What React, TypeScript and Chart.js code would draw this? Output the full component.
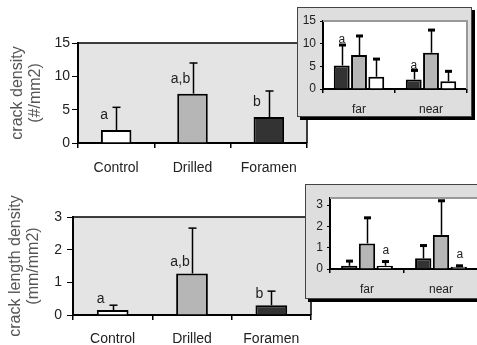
import React, { useEffect, useRef } from "react";
import { Chart, registerables } from "chart.js";

Chart.register(...registerables);

// ---------- data ----------
const mainCategories = ["Control", "Drilled", "Foramen"];
const crackDensity = [1.95, 7.4, 3.9];
const crackDensityErr = [3.4, 4.6, 3.9];
const crackDensityLetters = ["a", "a,b", "b"];
const densityTicks = [0, 5, 10, 15];

const lengthDensity = [0.15, 1.27, 0.3];
const lengthDensityErr = [0.15, 1.39, 0.43];
const lengthDensityLetters = ["a", "a,b", "b"];
const lengthTicks = [0, 1, 2, 3];

const insetCategories = ["far", "near"];
const insetDensityDark = [5.2, 2.1];
const insetDensityDarkErr = [4.5, 2.0];
const insetDensityGray = [7.5, 8.0];
const insetDensityGrayErr = [4.2, 5.0];
const insetDensityWhite = [2.7, 1.7];
const insetDensityWhiteErr = [3.9, 2.2];
const insetDensityDarkLetters = ["a", "a"];

const insetLengthDark = [0.15, 0.5];
const insetLengthDarkErr = [0.22, 0.6];
const insetLengthGray = [1.2, 1.6];
const insetLengthGrayErr = [1.2, 1.6];
const insetLengthWhite = [0.15, 0.1];
const insetLengthWhiteErr = [0.2, 0.05];
const insetLengthWhiteLetters = ["a", "a"];

// ---------- styles ----------
const DARK = "#333333";
const GRAY = "#b6b6b6";
const WHITE = "#ffffff";
const FONT = "'Liberation Sans', Arial, sans-serif";
const NARROW = "'Liberation Sans Narrow', 'Arial Narrow', 'Liberation Sans', sans-serif";

type Series = { data: number[]; err: number[]; letters?: string[]; color: string | string[] };

type Opts = {
  labels: string[];
  series: Series[];
  max: number;
  ticks: number[];
  title?: string[];
  titlePad?: number;
  inset: boolean;
  yWidth: number;
  xHeight: number;
  pad: { left: number; top: number; right: number; bottom: number };
  tickLenY: number;
  tickPadY: number;
  tickPadX: number;
  catPct: number;
  barPct: number;
  tickFont: any;
  letterFont: string;
  letterDx: number;
  letterDy: number;
  letterFromErr: boolean;
  capW: number;
  capLW: number;
  boxW?: number;
  boxH?: number;
};

const panelPlugin = {
  id: "panel",
  beforeDraw(chart: any, _args: any, o: any) {
    const { ctx, chartArea: a } = chart;
    ctx.save();
    if (o.inset) {
      const s = 3;
      const bw = o.boxW, bh = o.boxH;
      ctx.fillStyle = "#000";
      ctx.fillRect(s, s, bw - s, bh - s);
      ctx.fillStyle = "#dedede";
      ctx.fillRect(0, 0, bw - s, bh - s);
      ctx.strokeStyle = "#444";
      ctx.lineWidth = 1;
      ctx.strokeRect(0.5, 0.5, bw - s - 1, bh - s - 1);
      ctx.fillStyle = "#ffffff";
      ctx.fillRect(a.left, a.top, a.right - a.left, a.bottom - a.top);
    } else {
      ctx.fillStyle = "#e4e4e4";
      ctx.fillRect(a.left, a.top, a.right - a.left, a.bottom - a.top);
    }
    ctx.restore();
  },
  afterDatasetsDraw(chart: any, _args: any, o: any) {
    const { ctx } = chart;
    const y = chart.scales.y;
    const series: Series[] = o.series;
    ctx.save();
    series.forEach((s, di) => {
      const meta = chart.getDatasetMeta(di);
      s.data.forEach((v, i) => {
        const bar = meta.data[i];
        const x = Math.round(bar.x) + 0.5;
        const yTop = y.getPixelForValue(v);
        const yErr = y.getPixelForValue(v + s.err[i]);
        ctx.strokeStyle = "#000";
        ctx.lineWidth = 1.5;
        ctx.beginPath();
        ctx.moveTo(x, yTop);
        ctx.lineTo(x, yErr);
        ctx.stroke();
        ctx.lineWidth = o.capLW;
        ctx.beginPath();
        ctx.moveTo(x - o.capW / 2, yErr);
        ctx.lineTo(x + o.capW / 2, yErr);
        ctx.stroke();
        if (s.letters && s.letters[i]) {
          ctx.fillStyle = "#222";
          ctx.font = o.letterFont;
          ctx.textAlign = "center";
          ctx.textBaseline = "middle";
          const ly = (o.letterFromErr ? yErr : yTop) - o.letterDy;
          ctx.fillText(s.letters[i], bar.x + o.letterDx, ly);
        }
      });
    });
    ctx.restore();
  },
  afterDraw(chart: any, _args: any, o: any) {
    const { ctx, chartArea: a } = chart;
    ctx.save();
    if (o.inset) {
      ctx.strokeStyle = "#999";
      ctx.lineWidth = 2;
    } else {
      ctx.strokeStyle = "#000";
      ctx.lineWidth = 1.5;
    }
    ctx.beginPath();
    ctx.moveTo(a.left, a.top);
    ctx.lineTo(a.right, a.top);
    ctx.lineTo(a.right, a.bottom);
    ctx.stroke();
    ctx.restore();
  },
};

function buildConfig(o: Opts): any {
  return {
    type: "bar",
    data: {
      labels: o.labels,
      datasets: o.series.map((s) => ({
        data: s.data,
        backgroundColor: s.color,
        borderColor: "#000",
        borderWidth: 2,
        borderSkipped: "bottom",
        categoryPercentage: o.catPct,
        barPercentage: o.barPct,
      })),
    },
    options: {
      responsive: false,
      animation: false,
      events: [],
      layout: { padding: o.pad },
      plugins: {
        legend: { display: false },
        tooltip: { enabled: false },
        panel: {
          inset: o.inset,
          series: o.series,
          boxW: o.boxW,
          boxH: o.boxH,
          letterFont: o.letterFont,
          letterDx: o.letterDx,
          letterDy: o.letterDy,
          letterFromErr: o.letterFromErr,
          capW: o.capW,
          capLW: o.capLW,
        },
      },
      scales: {
        x: {
          offset: true,
          afterFit: (s: any) => {
            s.height = o.xHeight;
          },
          grid: {
            offset: true,
            drawOnChartArea: false,
            drawTicks: true,
            tickLength: o.inset ? 4 : 5,
            color: "#000",
            lineWidth: 1.5,
          },
          border: { display: true, color: "#000", width: 2 },
          ticks: {
            color: "#222",
            font: o.tickFont,
            padding: o.tickPadX,
            maxRotation: 0,
            autoSkip: false,
          },
        },
        y: {
          min: 0,
          max: o.max,
          afterFit: (s: any) => {
            s.width = o.yWidth;
          },
          afterBuildTicks: (s: any) => {
            s.ticks = o.ticks.map((v) => ({ value: v }));
          },
          grid: {
            drawOnChartArea: false,
            drawTicks: true,
            tickLength: o.tickLenY,
            color: "#000",
            lineWidth: 1,
          },
          border: { display: true, color: "#000", width: 2 },
          ticks: {
            color: "#222",
            font: o.tickFont,
            padding: o.tickPadY,
          },
          title: o.title
            ? {
                display: true,
                text: o.title,
                color: "#555",
                font: { family: FONT, size: 16, lineHeight: 1.125 },
                padding: { top: o.titlePad ?? 0, bottom: 0 },
              }
            : { display: false },
        },
      },
    },
    plugins: [panelPlugin],
  };
}

function ChartCanvas({ config, left, top, width, height, z }: any) {
  const ref = useRef<HTMLCanvasElement>(null);
  useEffect(() => {
    const c = new Chart(ref.current as HTMLCanvasElement, config);
    return () => c.destroy();
  }, []);
  return (
    <canvas
      ref={ref}
      width={width}
      height={height}
      style={{ position: "absolute", left, top, width, height, zIndex: z }}
    />
  );
}

const mainTickFont = { family: FONT, size: 14 };
const insetTickFont = { family: NARROW, size: 12 };

const topMain = buildConfig({
  labels: mainCategories,
  series: [
    { data: crackDensity, err: crackDensityErr, letters: crackDensityLetters, color: [WHITE, GRAY, DARK] },
  ],
  max: 15,
  ticks: densityTicks,
  title: ["crack density", "(#/mm2)"],
  titlePad: 9,
  inset: false,
  yWidth: 78,
  xHeight: 37,
  pad: { left: 0, top: 43, right: 13, bottom: 0 },
  tickLenY: 6,
  tickPadY: 2,
  tickPadX: 12,
  catPct: 1,
  barPct: 0.4,
  tickFont: mainTickFont,
  letterFont: `14px ${FONT}`,
  letterDx: -12,
  letterDy: 15,
  letterFromErr: false,
  capW: 8,
  capLW: 1.5,
});

const bottomMain = buildConfig({
  labels: mainCategories,
  series: [
    { data: lengthDensity, err: lengthDensityErr, letters: lengthDensityLetters, color: [WHITE, GRAY, DARK] },
  ],
  max: 3,
  ticks: lengthTicks,
  title: ["crack length density", "(mm/mm2)"],
  titlePad: 7,
  inset: false,
  yWidth: 73,
  xHeight: 30,
  pad: { left: 0, top: 42, right: 9, bottom: 0 },
  tickLenY: 6,
  tickPadY: 5,
  tickPadX: 11,
  catPct: 1,
  barPct: 0.4,
  tickFont: mainTickFont,
  letterFont: `14px ${FONT}`,
  letterDx: -12,
  letterDy: 11,
  letterFromErr: false,
  capW: 8,
  capLW: 1.5,
});

const topInset = buildConfig({
  labels: insetCategories,
  series: [
    { data: insetDensityDark, err: insetDensityDarkErr, letters: insetDensityDarkLetters, color: DARK },
    { data: insetDensityGray, err: insetDensityGrayErr, color: GRAY },
    { data: insetDensityWhite, err: insetDensityWhiteErr, color: WHITE },
  ],
  max: 15,
  ticks: densityTicks,
  inset: true,
  yWidth: 26,
  xHeight: 32,
  pad: { left: 0, top: 14, right: 10, bottom: 0 },
  tickLenY: 3,
  tickPadY: 4,
  tickPadX: 9,
  catPct: 0.72,
  barPct: 0.92,
  tickFont: insetTickFont,
  letterFont: `12px ${NARROW}`,
  letterDx: 0,
  letterDy: 5,
  letterFromErr: true,
  capW: 7,
  capLW: 3,
  boxW: 178,
  boxH: 113,
});

const bottomInset = buildConfig({
  labels: insetCategories,
  series: [
    { data: insetLengthDark, err: insetLengthDarkErr, color: DARK },
    { data: insetLengthGray, err: insetLengthGrayErr, color: GRAY },
    { data: insetLengthWhite, err: insetLengthWhiteErr, letters: insetLengthWhiteLetters, color: WHITE },
  ],
  max: 3.33,
  ticks: lengthTicks,
  inset: true,
  yWidth: 25,
  xHeight: 33,
  pad: { left: 0, top: 14, right: 7, bottom: 0 },
  tickLenY: 3,
  tickPadY: 4,
  tickPadX: 9,
  catPct: 0.72,
  barPct: 0.92,
  tickFont: insetTickFont,
  letterFont: `12px ${NARROW}`,
  letterDx: 1,
  letterDy: 11,
  letterFromErr: true,
  capW: 7,
  capLW: 3,
  boxW: 186,
  boxH: 118,
});

export default function App() {
  return (
    <div
      style={{
        position: "absolute",
        left: 0,
        top: 0,
        width: 477,
        height: 345,
        overflow: "hidden",
        background: "#ffffff",
      }}
    >
      <ChartCanvas config={topMain} left={0} top={0} width={320} height={180} z={1} />
      <ChartCanvas config={bottomMain} left={0} top={175} width={320} height={170} z={2} />
      <ChartCanvas config={topInset} left={297} top={7} width={180} height={114} z={3} />
      <ChartCanvas config={bottomInset} left={305} top={184} width={180} height={118} z={4} />
    </div>
  );
}
